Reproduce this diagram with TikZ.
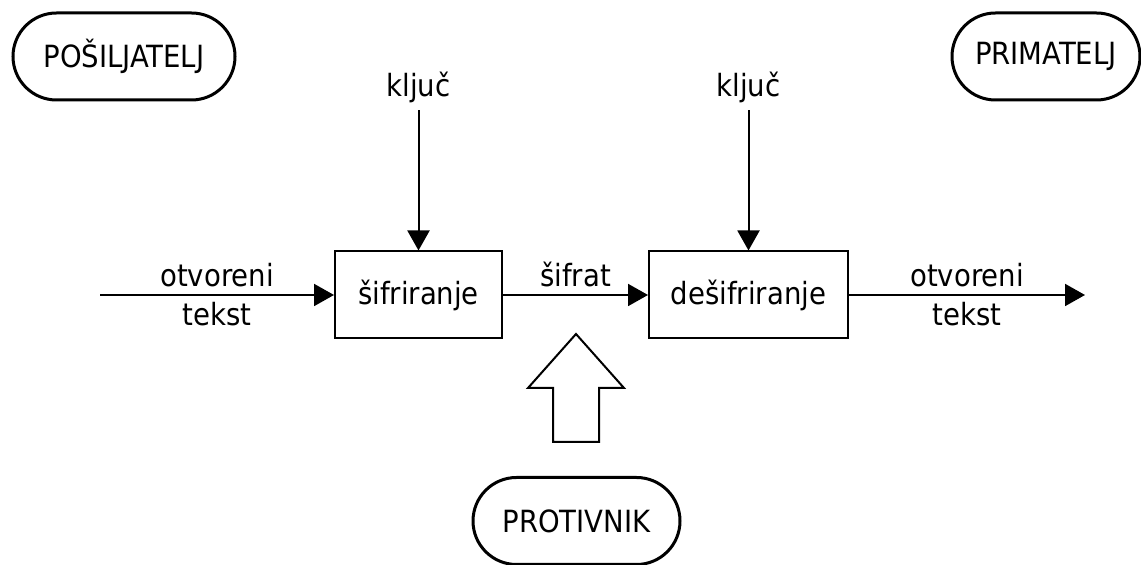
\documentclass[tikz,border=0pt]{standalone}
\usepackage{fontspec}
\setmainfont{DejaVu Sans Condensed}
\usetikzlibrary{arrows.meta,positioning}

\begin{document}
\begin{tikzpicture}[
    x=0.5pt, y=-0.5pt,
    font=\fontsize{15.3pt}{18pt}\selectfont,
    party/.style={rectangle, draw=black, line width=1.5pt, rounded corners=21.75pt,
                minimum height=43.5pt},
    box/.style={rectangle, draw=black, line width=1pt,
                minimum height=43.5pt, align=center},
    arrow/.style={-{Triangle[length=10pt, width=11pt]}, line width=1pt}
]
\useasboundingbox (0,0) rectangle (1141,565);

% Parties - sender, receiver, adversary
\node[party, minimum width=111pt] (sender) at (124,56.5) {POŠILJATELJ};
\node[party, minimum width=94pt] (receiver) at (1046,56.5) {PRIMATELJ};
\node[party, minimum width=103.5pt] (adversary) at (576.5,521) {PROTIVNIK};

% Encryption and decryption boxes
\node[box, minimum width=83.5pt] (enc) at (418.5,295) {šifriranje};
\node[box, minimum width=99.5pt] (dec) at (748.5,295) {dešifriranje};

% Keys above the boxes
\node[anchor=base] (key1) at (418.5,97) {ključ};
\node[anchor=base] (key2) at (748.5,97) {ključ};
\draw[arrow] (key1.south) -- (enc.north);
\draw[arrow] (key2.south) -- (dec.north);

% Plaintext in, ciphertext, plaintext out
\coordinate (in) at (100,295);
\coordinate (out) at (1085,295);
\draw[arrow] (in) -- (enc.west)
    node[midway, above] {otvoreni} node[midway, below] {tekst};
\draw[arrow] (enc.east) -- (dec.west) node[midway, above] {šifrat};
\draw[arrow] (dec.east) -- (out)
    node[midway, above] {otvoreni} node[midway, below] {tekst};

% Hollow arrow of the adversary
\draw[line width=1pt, line join=miter] (576,334) -- (624,388) -- (599,388)
    -- (599,442) -- (553,442) -- (553,388) -- (528,388) -- cycle;

\end{tikzpicture}
\end{document}
